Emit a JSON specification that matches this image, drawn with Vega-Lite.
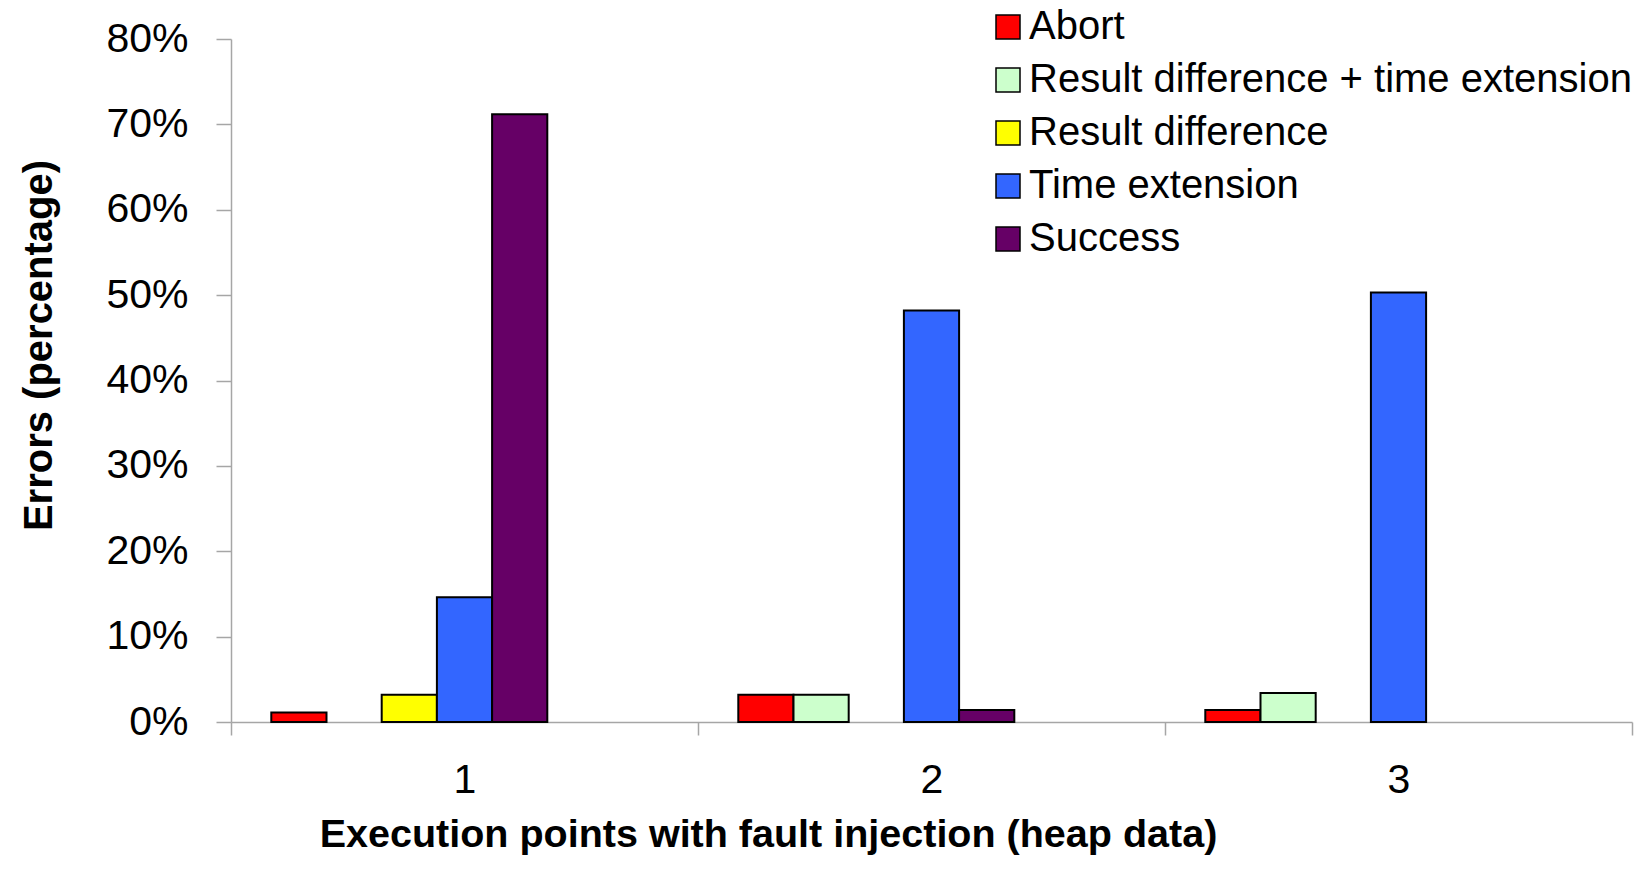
{
  "$schema": "https://vega.github.io/schema/vega-lite/v6.json",
  "autosize": "none",
  "width": 1401,
  "height": 683,
  "padding": {"left": 231, "top": 39, "right": 8, "bottom": 165},
  "background": "white",
  "config": {
    "view": {"stroke": null},
    "font": "Liberation Sans, Arial, sans-serif"
  },
  "data": {
    "values": [
      {"point": "1", "type": "Abort", "share": 0.011},
      {"point": "1", "type": "Result difference", "share": 0.032},
      {"point": "1", "type": "Time extension", "share": 0.146},
      {"point": "1", "type": "Success", "share": 0.712},
      {"point": "2", "type": "Abort", "share": 0.032},
      {"point": "2", "type": "Result difference + time extension", "share": 0.032},
      {"point": "2", "type": "Time extension", "share": 0.482},
      {"point": "2", "type": "Success", "share": 0.014},
      {"point": "3", "type": "Abort", "share": 0.014},
      {"point": "3", "type": "Result difference + time extension", "share": 0.034},
      {"point": "3", "type": "Time extension", "share": 0.503}
    ]
  },
  "mark": {"type": "bar", "stroke": "black", "strokeWidth": 2},
  "encoding": {
    "x": {
      "field": "point",
      "type": "ordinal",
      "scale": {"paddingInner": 0, "paddingOuter": 0},
      "axis": {
        "title": "Execution points with fault injection (heap data)",
        "titleFontSize": 39.5,
        "titleFontWeight": "bold",
        "titleColor": "black",
        "titleX": 537,
        "titleY": 112,
        "titleBaseline": "middle",
        "titleAnchor": "middle",
        "labelAngle": 0,
        "labelFontSize": 41,
        "labelColor": "black",
        "labelPadding": 25,
        "tickBand": "extent",
        "tickSize": 13,
        "tickColor": "#a6a6a6",
        "tickWidth": 1.5,
        "domainColor": "#a6a6a6",
        "domainWidth": 1.5
      }
    },
    "xOffset": {
      "field": "type",
      "type": "nominal",
      "scale": {
        "domain": ["Abort", "Result difference + time extension", "Result difference", "Time extension", "Success", "_pad1", "_pad2"],
        "paddingInner": 0,
        "paddingOuter": 0.73
      }
    },
    "y": {
      "field": "share",
      "type": "quantitative",
      "scale": {"domain": [0, 0.8], "nice": false},
      "axis": {
        "title": "Errors (percentage)",
        "titleFontSize": 40,
        "titleFontWeight": "bold",
        "titleColor": "black",
        "titleX": -192,
        "titleY": 306,
        "titleAngle": 270,
        "titleBaseline": "middle",
        "titleAnchor": "middle",
        "values": [0, 0.1, 0.2, 0.3, 0.4, 0.5, 0.6, 0.7, 0.8],
        "format": ".0%",
        "grid": false,
        "labelFontSize": 41,
        "labelColor": "black",
        "labelPadding": 28,
        "tickSize": 15,
        "tickColor": "#a6a6a6",
        "tickWidth": 1.5,
        "domainColor": "#a6a6a6",
        "domainWidth": 1.5
      }
    },
    "color": {
      "field": "type",
      "type": "nominal",
      "scale": {
        "domain": ["Abort", "Result difference + time extension", "Result difference", "Time extension", "Success"],
        "range": ["#ff0000", "#ccffcc", "#ffff00", "#3366ff", "#660066"]
      },
      "legend": {
        "title": null,
        "orient": "none",
        "legendX": 757,
        "legendY": -32,
        "symbolType": "square",
        "symbolSize": 576,
        "symbolStrokeColor": "black",
        "symbolStrokeWidth": 1.5,
        "symbolOpacity": 1,
        "labelFontSize": 40,
        "labelColor": "black",
        "labelOffset": 1,
        "labelLimit": 800,
        "rowPadding": 13
      }
    }
  }
}
